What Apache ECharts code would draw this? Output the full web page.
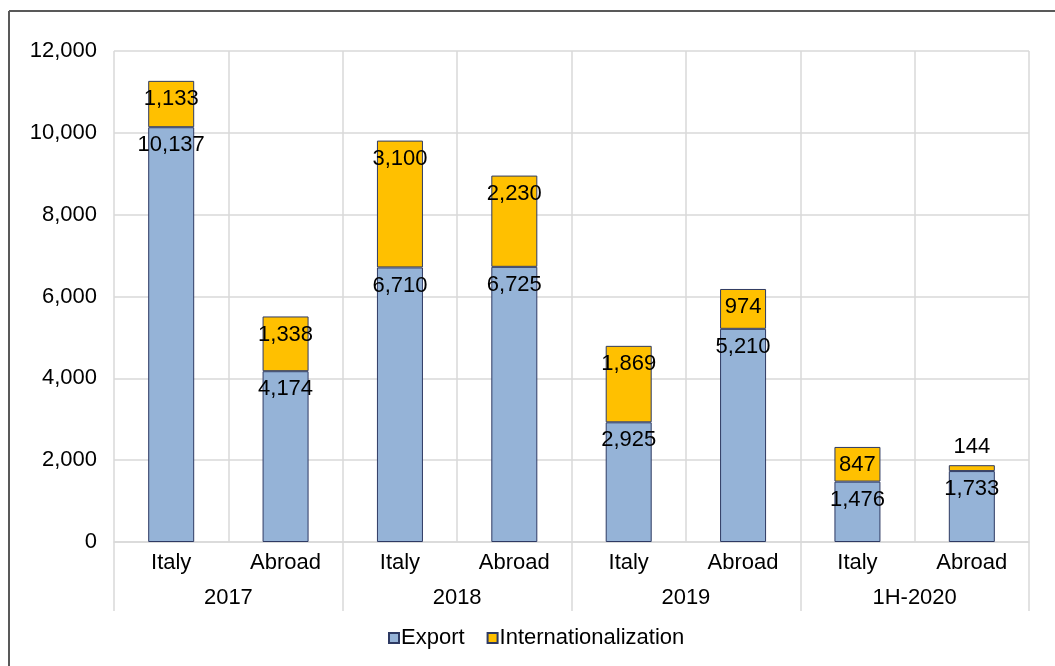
<!DOCTYPE html>
<html>
<head>
<meta charset="utf-8">
<script src="https://cdn.jsdelivr.net/npm/echarts@6/dist/echarts.min.js"></script>
<style>
html,body{margin:0;padding:0;background:#fff;}
#chart{width:1055px;height:666px;}
</style>
</head>
<body>
<div id="chart"></div>
<script>
const categories = ['Italy','Abroad','Italy','Abroad','Italy','Abroad','Italy','Abroad'];
const groups = ['2017','2018','2019','1H-2020'];
const exportValues = [10137, 4174, 6710, 6725, 2925, 5210, 1476, 1733];
const intlValues = [1133, 1338, 3100, 2230, 1869, 974, 847, 144];
const yTicks = [0, 2000, 4000, 6000, 8000, 10000, 12000];

const FONT = "'Liberation Sans', Arial, Helvetica, sans-serif";
const FS = 22;
const fmt = v => Number(v).toLocaleString('en-US');

const chart = echarts.init(document.getElementById('chart'));
chart.setOption({
  animation: false,
  textStyle: {fontFamily: FONT},
  graphic: [
    {type:'line', shape:{x1:9,y1:11,x2:1055,y2:11}, style:{stroke:'#595959', lineWidth:2}},
    {type:'line', shape:{x1:9,y1:11,x2:9,y2:666}, style:{stroke:'#595959', lineWidth:2}}
  ],
  grid: {left:114, right:26, top:51, bottom:124},
  legend: {
    top: 622, left: 383,
    icon: 'rect', itemWidth: 10, itemHeight: 10, itemGap: 22,
    textStyle: {fontSize: FS, color: '#000', fontFamily: FONT, padding:[0,0,0,-3]},
    data: ['Export','Internationalization']
  },
  xAxis: [
    {
      type: 'category', data: categories, position: 'bottom',
      axisLine: {show:true, lineStyle:{color:'#d9d9d9', width:1.5}},
      axisTick: {show:false},
      splitLine: {show:true, interval:0, lineStyle:{color:'#d9d9d9', width:1.5}},
      axisLabel: {interval:0, fontSize:FS, color:'#000', margin:10, fontFamily: FONT}
    },
    {
      type: 'category', data: groups, position: 'bottom',
      axisLine: {show:false},
      axisTick: {show:true, length:69, interval:0, lineStyle:{color:'#d9d9d9', width:1.5}},
      axisLabel: {interval:0, fontSize:FS, color:'#000', margin:45, fontFamily: FONT}
    }
  ],
  yAxis: {
    type: 'value', min: yTicks[0], max: yTicks[yTicks.length-1], interval: 2000,
    axisLine: {show:false}, axisTick: {show:false},
    splitLine: {show:true, lineStyle:{color:'#d9d9d9', width:1.5}},
    axisLabel: {fontSize:FS, color:'#000', margin:17, formatter: v => fmt(v), fontFamily: FONT}
  },
  series: [
    {
      name: 'Export', type: 'bar', stack: 'total', xAxisIndex: 0, barWidth: 46,
      itemStyle: {color:'#95B3D7', borderColor:'#2E3A63', borderWidth:1},
      label: {show:true, position:'insideTop', distance:7, fontSize:FS, color:'#000',
              fontFamily: FONT, formatter: p => fmt(p.value)},
      data: exportValues
    },
    {
      name: 'Internationalization', type: 'bar', stack: 'total', xAxisIndex: 0, barWidth: 46,
      itemStyle: {color:'#FFC000', borderColor:'#2E3A63', borderWidth:1},
      label: {show:true, position:'insideTop', distance:7, fontSize:FS, color:'#000',
              fontFamily: FONT, formatter: p => fmt(p.value)},
      data: intlValues.map(v => v < 500
        ? {value: v, label: {position:'top', distance:7}}
        : v)
    }
  ]
});
</script>
</body>
</html>
